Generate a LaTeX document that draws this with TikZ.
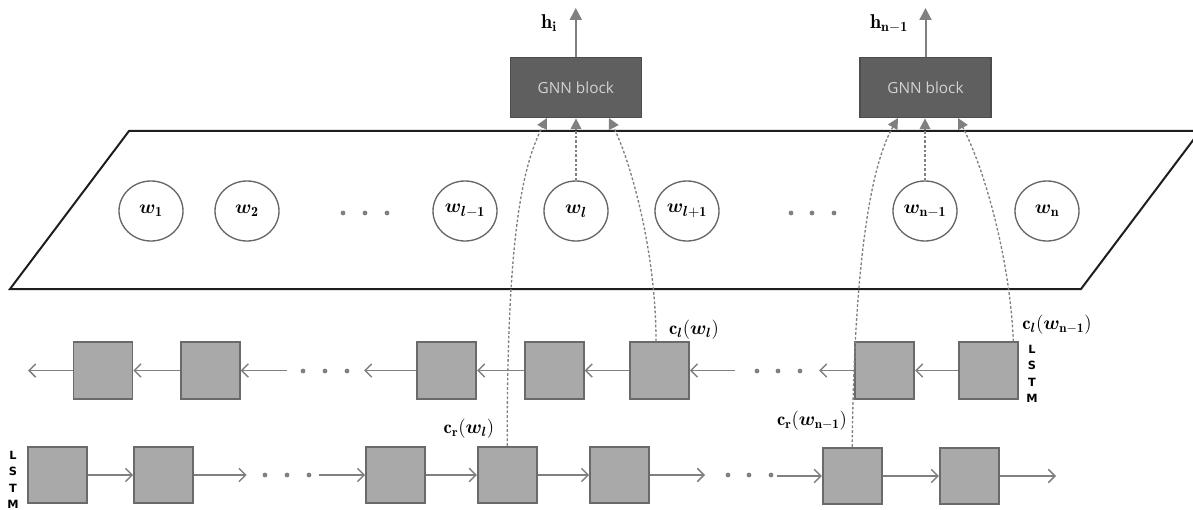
\documentclass[tikz,border=0pt]{standalone}
\usepackage{fontspec}
\usepackage{amsmath,bm}
\usetikzlibrary{arrows.meta,shapes.geometric,calc}
\newfontfamily\gnnfont{Open Sans}
\newfontfamily\lstmfont{DejaVu Sans}
\definecolor{linegray}{HTML}{808080}
\definecolor{boxfill}{HTML}{A9A9A9}
\definecolor{boxedge}{HTML}{6A6A6A}
\definecolor{gnnfill}{HTML}{5F5F5F}
\definecolor{gnnedge}{HTML}{4D4D4D}
\definecolor{gnntext}{HTML}{D2D2D2}
\definecolor{circgray}{HTML}{666666}
\definecolor{planeedge}{HTML}{1E1E1E}
\tikzset{
  cell/.style={draw=boxedge, fill=boxfill, line width=1.3pt, minimum width=44.25pt,
    minimum height=42.5pt, inner sep=0pt},
  word/.style={ellipse, draw=circgray, line width=1pt, minimum width=48pt,
    minimum height=45pt, inner sep=0pt, font=\fontsize{15}{17}\selectfont},
  gnn/.style={draw=gnnedge, fill=gnnfill, line width=0.8pt, minimum width=98.25pt,
    minimum height=45.5pt, inner sep=0pt, text=gnntext, font=\gnnfont\fontsize{11.5}{13}\selectfont},
  flow/.style={draw=linegray, line width=1.1pt, -{Straight Barb[length=5pt,width=10pt]}},
  feed/.style={draw=linegray, line width=1pt, dash pattern=on 2pt off 1.5pt,
    -{Triangle[length=8pt,width=8pt]}},
  outarrow/.style={draw=linegray, line width=1.5pt, -{Triangle[length=9pt,width=9pt]}},
  lab/.style={inner sep=0pt, font=\fontsize{14}{16}\selectfont},
  lstm/.style={inner sep=0pt, align=center, font=\lstmfont\bfseries\fontsize{8.5}{12.3}\selectfont},
  dotmark/.style={fill=linegray},
}
\begin{document}
\begin{tikzpicture}[x=0.75pt, y=-0.75pt]
\useasboundingbox (0,0) rectangle (1193,510);

% the word plane
\begin{scope}
  \clip (0,0) rectangle (1193,510);
  \draw[planeedge, line width=1.5pt, line join=miter] (10,289) -- (129,131) -- (1200,131) -- (1081,289) -- cycle;
\end{scope}

% words
\node[word] (w1)  at (151,211)   {$\bm{w}_{\mathbf{1}}$};
\node[word] (w2)  at (247,211)   {$\bm{w}_{\mathbf{2}}$};
\node[word] (wl1) at (465,211)   {$\bm{w}_{\bm{l}-\mathbf{1}}$};
\node[word] (wl)  at (576,211)   {$\bm{w}_{\bm{l}}$};
\node[word] (wl2) at (687,211)   {$\bm{w}_{\bm{l}+\mathbf{1}}$};
\node[word] (wn1) at (925,211)   {$\bm{w}_{\mathbf{n}-\mathbf{1}}$};
\node[word] (wn)  at (1047,211)  {$\bm{w}_{\mathbf{n}}$};
\foreach \x in {343,365,387,791,812,834} \fill[dotmark] (\x,213) circle (2.4);

% GNN blocks and their outputs
\node[gnn] (g1) at (575.8,87.5) {GNN block};
\node[gnn] (g2) at (925.5,87.5) {GNN block};
\coordinate (o1) at (575.8,8);
\coordinate (o2) at (925.5,8);
\draw[outarrow] (g1.north) -- (o1);
\draw[outarrow] (g2.north) -- (o2);
\node[lab, font=\fontsize{15}{17}\selectfont] (h1) at (549,23) {$\mathbf{h}_{\mathbf{i}}$};
\node[lab, font=\fontsize{15}{17}\selectfont] (h2) at (889,24) {$\mathbf{h}_{\mathbf{n}-\mathbf{1}}$};

% backward LSTM row
\node[cell] (t1) at (103,370.5)   {};
\node[cell] (t2) at (210.3,370.5) {};
\node[cell] (t3) at (446.7,370.5) {};
\node[cell] (t4) at (554.2,370.5) {};
\node[cell] (t5) at (659.5,370.5) {};
\node[cell] (t6) at (884.7,370.5) {};
\node[cell] (t7) at (988.3,370.5) {};
\coordinate (tend)  at (28,370.5);
\coordinate (tin1)  at (287,370.5);
\coordinate (tout1) at (364,370.5);
\coordinate (tin2)  at (735,370.5);
\coordinate (tout2) at (819,370.5);
\draw[flow] (t1.west) -- (tend);
\draw[flow] (t2.west) -- (t1.east);
\draw[flow] (tin1) -- (t2.east);
\draw[flow] (t3.west) -- (tout1);
\draw[flow] (t4.west) -- (t3.east);
\draw[flow] (t5.west) -- (t4.east);
\draw[flow] (tin2) -- (t5.east);
\draw[flow] (t6.west) -- (tout2);
\draw[flow] (t7.west) -- (t6.east);
\foreach \x in {303,325,347,757,778,800} \fill[dotmark] (\x,371) circle (2.4);
\node[lstm] (lstmr) at (1032,374) {L\\S\\T\\M};

% forward LSTM row
\node[cell] (b1) at (57.2,475)  {};
\node[cell] (b2) at (163.5,475) {};
\node[cell] (b3) at (395.5,475) {};
\node[cell] (b4) at (507.2,475) {};
\node[cell] (b5) at (619.5,475) {};
\node[cell] (b6) at (852.2,476) {};
\node[cell] (b7) at (969.3,476) {};
\coordinate (bout1) at (246.7,475);
\coordinate (bin1)  at (319,475);
\coordinate (bout2) at (705,475);
\coordinate (bin2)  at (777,476);
\coordinate (bend)  at (1056,476);
\draw[flow] (b1.east) -- (b2.west);
\draw[flow] (b2.east) -- (bout1);
\draw[flow] (bin1) -- (b3.west);
\draw[flow] (b3.east) -- (b4.west);
\draw[flow] (b4.east) -- (b5.west);
\draw[flow] (b5.east) -- (bout2);
\draw[flow] (bin2) -- (b6.west);
\draw[flow] (b6.east) -- (b7.west);
\draw[flow] (b7.east) -- (bend);
\foreach \x in {265,287,309,728,749,771} \fill[dotmark] (\x,475) circle (2.4);
\node[lstm] (lstml) at (13,480) {L\\S\\T\\M};

% context labels
\node[lab] (cl1) at (694,330) {$\mathbf{c}_{\bm{l}}(\bm{w}_{\bm{l}})$};
\node[lab] (cr1) at (469,429) {$\mathbf{c}_{\mathbf{r}}(\bm{w}_{\bm{l}})$};
\node[lab] (cl2) at (1057,325) {$\mathbf{c}_{\bm{l}}(\bm{w}_{\mathbf{n}-\mathbf{1}})$};
\node[lab] (cr2) at (812,421) {$\mathbf{c}_{\mathbf{r}}(\bm{w}_{\mathbf{n}-\mathbf{1}})$};

% inputs gathered by each GNN block
\coordinate (g1l) at (547,118);
\coordinate (g1r) at (609,118);
\coordinate (g2l) at (898,118);
\coordinate (g2r) at (958,118);
\draw[feed] (wl.north) -- (wl.north |- g1.south);
\draw[feed] (wn1.north) -- (wn1.north |- g2.south);
\draw[feed] (b4.north) .. controls (507,250) and (520,170) .. (g1l);
\draw[feed] ([xshift=-2.6pt]t5.north) .. controls (656,250) and (630,160) .. (g1r);
\draw[feed] (b6.north) .. controls (854,280) and (868,170) .. (g2l);
\draw[feed] ([xshift=-4pt]t7.north east) .. controls (1010,260) and (985,170) .. (g2r);
\end{tikzpicture}
\end{document}
